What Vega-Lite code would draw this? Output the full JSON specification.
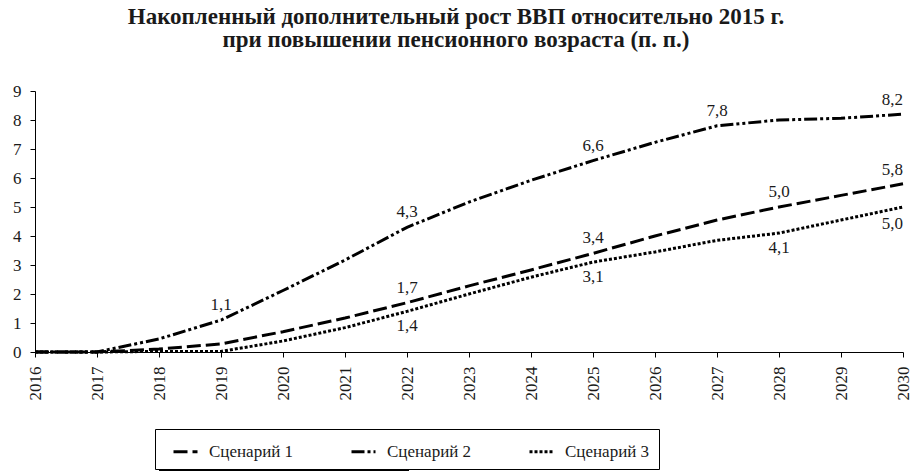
{
  "$schema": "https://vega.github.io/schema/vega-lite/v6.json",
  "width": 868,
  "height": 261,
  "autosize": {"type": "none"},
  "padding": {"left": 35, "top": 91, "right": 9, "bottom": 119},
  "background": "white",
  "title": {
    "text": ["Накопленный  дополнительный рост ВВП относительно 2015 г.", "при повышении пенсионного возраста (п. п.)"],
    "font": "Liberation Serif, Times New Roman, serif",
    "fontSize": 23,
    "fontWeight": "bold",
    "color": "#1a1a1a",
    "lineHeight": 23,
    "anchor": "middle",
    "frame": "group",
    "dx": -13,
    "offset": 30
  },
  "config": {
    "font": "Liberation Serif, Times New Roman, serif",
    "view": {"stroke": null},
    "locale": {"number": {"decimal": ",", "thousands": " ", "grouping": [3], "currency": ["", ""]}},
    "axis": {
      "grid": false,
      "domainColor": "black",
      "tickColor": "black",
      "labelColor": "#1a1a1a",
      "labelFont": "Liberation Serif, Times New Roman, serif",
      "tickSize": 5,
      "title": null
    },
    "legend": {"labelFont": "Liberation Serif, Times New Roman, serif"},
    "text": {"font": "Liberation Serif, Times New Roman, serif", "fontSize": 17, "color": "#1a1a1a"}
  },
  "datasets": {
    "gdp": [
      {"year": 2016, "scenario": "Сценарий 1", "value": 0},
      {"year": 2017, "scenario": "Сценарий 1", "value": 0},
      {"year": 2018, "scenario": "Сценарий 1", "value": 0.1},
      {"year": 2019, "scenario": "Сценарий 1", "value": 0.28},
      {"year": 2020, "scenario": "Сценарий 1", "value": 0.7},
      {"year": 2021, "scenario": "Сценарий 1", "value": 1.17},
      {"year": 2022, "scenario": "Сценарий 1", "value": 1.7},
      {"year": 2023, "scenario": "Сценарий 1", "value": 2.28},
      {"year": 2024, "scenario": "Сценарий 1", "value": 2.83},
      {"year": 2025, "scenario": "Сценарий 1", "value": 3.4},
      {"year": 2026, "scenario": "Сценарий 1", "value": 4.0},
      {"year": 2027, "scenario": "Сценарий 1", "value": 4.55},
      {"year": 2028, "scenario": "Сценарий 1", "value": 5.0},
      {"year": 2029, "scenario": "Сценарий 1", "value": 5.4},
      {"year": 2030, "scenario": "Сценарий 1", "value": 5.8},
      {"year": 2016, "scenario": "Сценарий 2", "value": 0},
      {"year": 2017, "scenario": "Сценарий 2", "value": 0},
      {"year": 2018, "scenario": "Сценарий 2", "value": 0.45},
      {"year": 2019, "scenario": "Сценарий 2", "value": 1.1},
      {"year": 2020, "scenario": "Сценарий 2", "value": 2.12},
      {"year": 2021, "scenario": "Сценарий 2", "value": 3.17},
      {"year": 2022, "scenario": "Сценарий 2", "value": 4.3},
      {"year": 2023, "scenario": "Сценарий 2", "value": 5.17},
      {"year": 2024, "scenario": "Сценарий 2", "value": 5.92},
      {"year": 2025, "scenario": "Сценарий 2", "value": 6.6},
      {"year": 2026, "scenario": "Сценарий 2", "value": 7.23},
      {"year": 2027, "scenario": "Сценарий 2", "value": 7.8},
      {"year": 2028, "scenario": "Сценарий 2", "value": 8.0},
      {"year": 2029, "scenario": "Сценарий 2", "value": 8.06},
      {"year": 2030, "scenario": "Сценарий 2", "value": 8.2},
      {"year": 2016, "scenario": "Сценарий 3", "value": 0},
      {"year": 2017, "scenario": "Сценарий 3", "value": 0},
      {"year": 2018, "scenario": "Сценарий 3", "value": 0.02},
      {"year": 2019, "scenario": "Сценарий 3", "value": 0.02},
      {"year": 2020, "scenario": "Сценарий 3", "value": 0.38},
      {"year": 2021, "scenario": "Сценарий 3", "value": 0.84},
      {"year": 2022, "scenario": "Сценарий 3", "value": 1.4},
      {"year": 2023, "scenario": "Сценарий 3", "value": 2.0},
      {"year": 2024, "scenario": "Сценарий 3", "value": 2.58},
      {"year": 2025, "scenario": "Сценарий 3", "value": 3.1},
      {"year": 2026, "scenario": "Сценарий 3", "value": 3.45},
      {"year": 2027, "scenario": "Сценарий 3", "value": 3.85},
      {"year": 2028, "scenario": "Сценарий 3", "value": 4.1},
      {"year": 2029, "scenario": "Сценарий 3", "value": 4.55},
      {"year": 2030, "scenario": "Сценарий 3", "value": 5.0}
    ]
  },
  "data": {"name": "gdp"},
  "encoding": {
    "x": {
      "field": "year",
      "type": "quantitative",
      "scale": {"domain": [2016, 2030], "nice": false, "zero": false},
      "axis": {
        "values": [2016, 2017, 2018, 2019, 2020, 2021, 2022, 2023, 2024, 2025, 2026, 2027, 2028, 2029, 2030],
        "format": "d",
        "labelAngle": -90,
        "labelAlign": "right",
        "labelBaseline": "middle",
        "labelFontSize": 17,
        "labelPadding": 9,
        "labelFlush": false,
        "labelOverlap": false
      }
    },
    "y": {
      "field": "value",
      "type": "quantitative",
      "scale": {"domain": [0, 9], "nice": false},
      "axis": {
        "values": [0, 1, 2, 3, 4, 5, 6, 7, 8, 9],
        "format": "d",
        "labelFontSize": 17,
        "labelPadding": 9,
        "labelFlush": false
      }
    }
  },
  "resolve": {"scale": {"strokeDash": "independent"}, "legend": {"strokeDash": "independent"}},
  "layer": [
    {
      "mark": {"type": "line", "color": "black", "strokeWidth": 3, "opacity": 0},
      "encoding": {
        "strokeDash": {
          "field": "scenario",
          "type": "nominal",
          "scale": {
            "domain": ["Сценарий 1", "Сценарий 2", "Сценарий 3"],
            "range": [[14, 5], [13, 3, 3, 3, 3, 3], [3, 2]]
          },
          "legend": {
            "title": null,
            "orient": "none",
            "legendX": 124,
            "legendY": 341,
            "direction": "horizontal",
            "columns": 3,
            "columnPadding": 48,
            "padding": 9,
            "strokeColor": "black",
            "fillColor": "black",
            "symbolType": "stroke",
            "symbolSize": 576,
            "symbolStrokeWidth": 3,
            "symbolStrokeColor": "black",
            "symbolOffset": 8,
            "labelExpr": "'                   '",
            "labelFont": "Liberation Serif, Times New Roman, serif",
            "labelFontSize": 17,
            "labelColor": "black",
            "labelOffset": 10
          }
        }
      }
    },
    {
      "mark": {"type": "line", "color": "black", "strokeWidth": 3, "strokeCap": "butt"},
      "encoding": {
        "strokeDash": {
          "field": "scenario",
          "type": "nominal",
          "scale": {
            "domain": ["Сценарий 1", "Сценарий 2", "Сценарий 3"],
            "range": [[14, 5], [13, 3, 3, 3, 3, 3], [3, 2]]
          },
          "legend": {
            "title": null,
            "orient": "none",
            "legendX": 120,
            "legendY": 338,
            "direction": "horizontal",
            "columns": 3,
            "columnPadding": 48,
            "padding": 9,
            "strokeColor": "black",
            "fillColor": "white",
            "symbolType": "stroke",
            "symbolSize": 576,
            "symbolStrokeWidth": 3,
            "symbolStrokeColor": "black",
            "symbolOffset": 8,
            "labelFont": "Liberation Serif, Times New Roman, serif",
            "labelFontSize": 17,
            "labelColor": "#1a1a1a",
            "labelOffset": 10
          }
        }
      }
    },
    {
      "transform": [{"filter": "(datum.scenario == 'Сценарий 2' && indexof([2019, 2022, 2025, 2027], datum.year) >= 0) || (datum.scenario == 'Сценарий 1' && indexof([2022, 2025, 2028], datum.year) >= 0)"}],
      "mark": {"type": "text", "dy": -15, "baseline": "middle", "align": "center"},
      "encoding": {"text": {"field": "value", "type": "quantitative", "format": ".1f"}}
    },
    {
      "transform": [{"filter": "datum.year == 2030 && datum.scenario != 'Сценарий 3'"}],
      "mark": {"type": "text", "dy": -14, "baseline": "middle", "align": "right"},
      "encoding": {"text": {"field": "value", "type": "quantitative", "format": ".1f"}}
    },
    {
      "transform": [{"filter": "datum.scenario == 'Сценарий 3' && indexof([2022, 2025, 2028], datum.year) >= 0"}],
      "mark": {"type": "text", "dy": 15, "baseline": "middle", "align": "center"},
      "encoding": {"text": {"field": "value", "type": "quantitative", "format": ".1f"}}
    },
    {
      "transform": [{"filter": "datum.scenario == 'Сценарий 3' && datum.year == 2030"}],
      "mark": {"type": "text", "dy": 17, "baseline": "middle", "align": "right"},
      "encoding": {"text": {"field": "value", "type": "quantitative", "format": ".1f"}}
    }
  ]
}
